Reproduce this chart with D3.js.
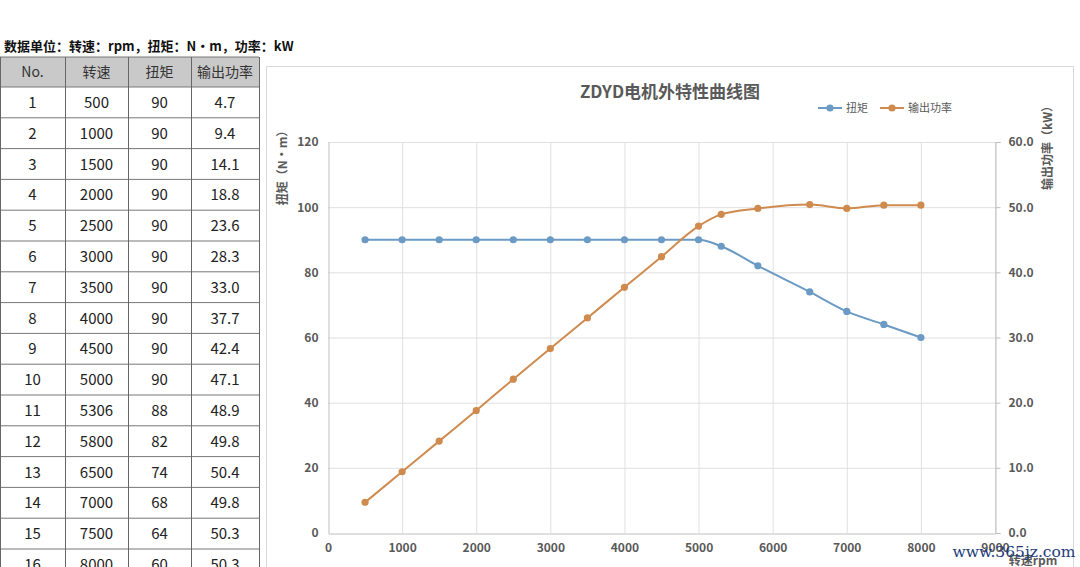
<!DOCTYPE html>
<html lang="zh">
<head>
<meta charset="UTF-8">
<title>ZDYD电机外特性曲线图</title>
<style>
  body { margin: 0; background: #fff; font-family: "Noto Sans CJK SC", "Noto Sans", sans-serif; }
  svg text { font-family: "Noto Sans CJK SC", "Noto Sans", sans-serif; }
</style>
<script src="https://cdn.jsdelivr.net/npm/d3@7"></script>
</head>
<body>
<svg id="vis" width="1080" height="567"></svg>
<script>
var nos    = [1, 2, 3, 4, 5, 6, 7, 8, 9, 10, 11, 12, 13, 14, 15, 16];
var speeds = [500, 1000, 1500, 2000, 2500, 3000, 3500, 4000, 4500, 5000, 5306, 5800, 6500, 7000, 7500, 8000];
var torque = [90, 90, 90, 90, 90, 90, 90, 90, 90, 90, 88, 82, 74, 68, 64, 60];
var power  = [4.7, 9.4, 14.1, 18.8, 23.6, 28.3, 33.0, 37.7, 42.4, 47.1, 48.9, 49.8, 50.4, 49.8, 50.3, 50.3];
var headers = ["No.", "转速", "扭矩", "输出功率"];
var xTicks = [0, 1000, 2000, 3000, 4000, 5000, 6000, 7000, 8000, 9000];
var yTicksLeft = [0, 20, 40, 60, 80, 100, 120];
var yTicksRight = [0, 10, 20, 30, 40, 50, 60];

var svg = d3.select("#vis");
var blue = "#6b9ac4", orange = "#cf8a4e", txt = "#595959";

// ---- unit note + table ----
svg.append("text")
    .attr("x", 4).attr("y", 51)
    .attr("font-size", 13).attr("font-weight", "bold").attr("fill", "#111")
    .text("数据单位：转速：rpm，扭矩：N•m，功率：kW");

var colX = [0, 65, 128, 191, 259];
var rowTop = 57, headH = 30, rowH = 30.8;
var rows = nos.map(function(n, i) { return [n, speeds[i], torque[i], power[i].toFixed(1)]; });

var tbl = svg.append("g");
tbl.append("rect").attr("x", 0).attr("y", rowTop).attr("width", colX[4]).attr("height", headH).attr("fill", "#c9c9c9");
headers.forEach(function(h, j) {
  tbl.append("text")
    .attr("x", (colX[j] + colX[j + 1]) / 2).attr("y", rowTop + headH / 2 + 5)
    .attr("text-anchor", "middle").attr("font-size", 14).attr("fill", "#333")
    .text(h);
});
rows.forEach(function(r, i) {
  var y = rowTop + headH + i * rowH;
  r.forEach(function(v, j) {
    tbl.append("text")
      .attr("x", (colX[j] + colX[j + 1]) / 2).attr("y", y + rowH / 2 + 5.5)
      .attr("text-anchor", "middle").attr("font-size", 15).attr("fill", "#222")
      .text(v);
  });
});
// grid lines of the table
for (var i = 0; i <= rows.length + 1; i++) {
  var yy = i === 0 ? rowTop : rowTop + headH + (i - 1) * rowH;
  tbl.append("line").attr("x1", 0).attr("x2", colX[4]).attr("y1", yy).attr("y2", yy)
    .attr("stroke", "#777").attr("stroke-width", 1);
}
colX.forEach(function(x) {
  tbl.append("line").attr("x1", x + 0.5).attr("x2", x + 0.5).attr("y1", rowTop).attr("y2", 567)
    .attr("stroke", "#666").attr("stroke-width", 1);
});

// ---- chart frame ----
svg.append("rect").attr("x", 266.5).attr("y", 66.5).attr("width", 807).attr("height", 520)
    .attr("fill", "none").attr("stroke", "#d9d9d9");

var x = d3.scaleLinear().domain([0, 9000]).range([328, 995]);
var yL = d3.scaleLinear().domain([0, 120]).range([533, 142]);
var yR = d3.scaleLinear().domain([0, 60]).range([533, 142]);

var g = svg.append("g");
// gridlines
g.selectAll(".hg").data(yTicksLeft.filter(function(d) { return d > 0; })).enter().append("line")
  .attr("x1", x(0)).attr("x2", x(9000)).attr("y1", function(d) { return yL(d) + 0.5; }).attr("y2", function(d) { return yL(d) + 0.5; })
  .attr("stroke", "#e0e0e0");
g.selectAll(".vg").data(xTicks.filter(function(d) { return d > 0; })).enter().append("line")
  .attr("x1", function(d) { return x(d) + 0.5; }).attr("x2", function(d) { return x(d) + 0.5; })
  .attr("y1", yL(120)).attr("y2", yL(0))
  .attr("stroke", "#e0e0e0");

// axes
var xAxis = svg.append("g").attr("transform", "translate(0," + (yL(0) + 0.5) + ")")
  .call(d3.axisBottom(x).tickValues(xTicks).tickSize(0).tickPadding(10).tickFormat(d3.format("d")));
var lAxis = svg.append("g").attr("transform", "translate(" + (x(0) + 0.5) + ",0)")
  .call(d3.axisLeft(yL).tickValues(yTicksLeft).tickSize(0).tickPadding(10));
var rAxis = svg.append("g").attr("transform", "translate(" + (x(9000) + 0.5) + ",0)")
  .call(d3.axisRight(yR).tickValues(yTicksRight).tickSize(5).tickPadding(8).tickFormat(d3.format(".1f")));
[xAxis, lAxis, rAxis].forEach(function(a) {
  a.select(".domain").attr("stroke", "#bfbfbf");
  a.selectAll(".tick line").attr("stroke", "#bfbfbf");
  a.selectAll("text").attr("fill", txt).attr("font-size", 12).attr("font-weight", "bold")
    .attr("font-family", "'Noto Sans CJK SC', sans-serif");
});

// axis titles
svg.append("text").attr("transform", "translate(287,165) rotate(-90)")
  .attr("text-anchor", "middle").attr("font-size", 12).attr("font-weight", "bold").attr("fill", txt)
  .text("扭矩（N•m）");
svg.append("text").attr("transform", "translate(1052,145) rotate(-90)")
  .attr("text-anchor", "middle").attr("font-size", 12).attr("font-weight", "bold").attr("fill", txt)
  .text("输出功率（kW）");
svg.append("text").attr("x", 1033).attr("y", 565)
  .attr("text-anchor", "middle").attr("font-size", 12).attr("font-weight", "bold").attr("fill", txt)
  .text("转速rpm");

// title
svg.append("text").attr("x", 670).attr("y", 98)
  .attr("text-anchor", "middle").attr("font-size", 17).attr("font-weight", "bold").attr("fill", txt)
  .text("ZDYD电机外特性曲线图");

// series
var series = [
  { name: "扭矩", color: blue, vals: torque, y: yL },
  { name: "输出功率", color: orange, vals: power, y: yR }
];
series.forEach(function(s) {
  var line = d3.line().curve(d3.curveMonotoneX)
    .x(function(d, i) { return x(speeds[i]); })
    .y(function(d) { return s.y(d); });
  svg.append("path").datum(s.vals).attr("d", line)
    .attr("fill", "none").attr("stroke", s.color).attr("stroke-width", 2);
  svg.append("g").selectAll("circle").data(s.vals).enter().append("circle")
    .attr("cx", function(d, i) { return x(speeds[i]); })
    .attr("cy", function(d) { return s.y(d); })
    .attr("r", 3.6).attr("fill", s.color);
});

// legend
var leg = svg.append("g").attr("transform", "translate(818,108)");
var legX = [0, 62];
series.forEach(function(s, i) {
  var lg = leg.append("g").attr("transform", "translate(" + legX[i] + ",0)");
  lg.append("line").attr("x1", 0).attr("x2", 24).attr("stroke", s.color).attr("stroke-width", 2);
  lg.append("circle").attr("cx", 12).attr("r", 3.6).attr("fill", s.color);
  lg.append("text").attr("x", 28).attr("y", 4).attr("font-size", 11).attr("fill", txt).text(s.name);
});

// watermark
svg.append("text").attr("x", 1014).attr("y", 557)
  .attr("text-anchor", "middle").attr("font-size", 15.5)
  .attr("fill", "#1c3c7a").attr("style", "font-family:'DejaVu Serif','Liberation Serif',serif")
  .text("www.365jz.com");
</script>
</body>
</html>
